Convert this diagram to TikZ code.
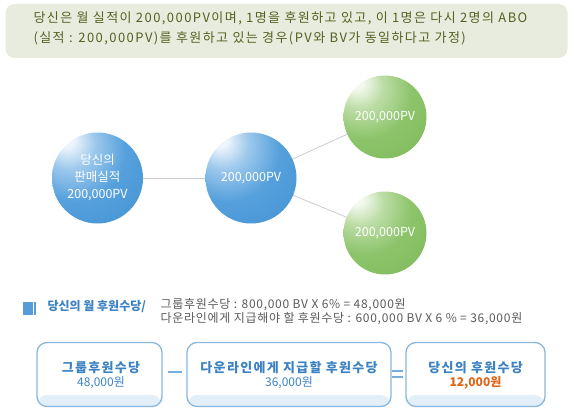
\documentclass[tikz,border=0pt]{standalone}
\usepackage{fontspec}
\setmainfont{Noto Sans CJK KR}
\usetikzlibrary{positioning}
\definecolor{clrOlive}{HTML}{55601F}
\definecolor{clrOliveLight}{HTML}{E8ECDF}
\definecolor{clrBlue}{HTML}{3B8BD0}
\definecolor{clrBlueMid}{HTML}{55A0DC}
\definecolor{clrBlueSoft}{HTML}{9CC8EC}
\definecolor{clrBlueHi}{HTML}{EEF5FC}
\definecolor{clrGreen}{HTML}{76B34F}
\definecolor{clrGreenMid}{HTML}{8DC46B}
\definecolor{clrGreenSoft}{HTML}{BCDDA6}
\definecolor{clrGreenHi}{HTML}{F4F9EF}
\definecolor{clrLine}{HTML}{C9CDD2}
\definecolor{clrHead}{HTML}{3C82C2}
\definecolor{clrText}{HTML}{5A5A5A}
\definecolor{clrBorder}{HTML}{86B8DD}
\definecolor{clrStrip}{HTML}{E2EEF8}
\definecolor{clrOrange}{HTML}{DE6519}
\pgfdeclareradialshading{glossblue}{\pgfpoint{-18bp}{22bp}}{%
  color(0bp)=(clrBlueHi); color(4bp)=(clrBlueHi); color(14bp)=(clrBlueSoft);
  color(28bp)=(clrBlueMid); color(62bp)=(clrBlue); color(90bp)=(clrBlue)}
\pgfdeclareradialshading{glossgreen}{\pgfpoint{-18bp}{22bp}}{%
  color(0bp)=(clrGreenHi); color(4bp)=(clrGreenHi); color(14bp)=(clrGreenSoft);
  color(28bp)=(clrGreenMid); color(62bp)=(clrGreen); color(90bp)=(clrGreen)}
\newcommand{\spaced}[1]{\addfontfeature{LetterSpace=#1}}
\tikzset{
  pv ball/.style={circle, inner sep=0pt, text=white, font=\fontsize{12.5}{17}\selectfont, align=center},
  blue ball/.style={pv ball, shading=glossblue, minimum size=91pt},
  green ball/.style={pv ball, shading=glossgreen, minimum size=83pt},
  link/.style={draw=clrLine, line width=0.8pt},
  sum box/.style={rectangle, draw=clrBorder, line width=1.3pt, rounded corners=10pt, align=center, inner sep=0pt},
  sum title/.style={font=\bfseries\fontsize{13}{15}\selectfont\spaced{10}, text=clrHead},
  sum value/.style={font=\fontsize{12}{15}\selectfont, text=clrHead},
  op mark/.style={draw=clrBorder!80!clrHead, line width=1.3pt},
}
\begin{document}
\begin{tikzpicture}[x=1pt, y=-1pt]
  \useasboundingbox (0,0) rectangle (574,412);

  % Question box
  \node[rectangle, fill=clrOliveLight, rounded corners=9pt, minimum width=562pt, minimum height=54pt] (quest) at (286.5,31) {};
  \node[anchor=west, text=clrOlive, font=\fontsize{13}{20}\selectfont\spaced{11}, align=left] (questtxt) at (30,28)
    {당신은 월 실적이 200,000PV이며, 1명을 후원하고 있고, 이 1명은 다시 2명의 ABO\\
     (실적 : 200,000PV)를 후원하고 있는 경우(PV와 BV가 동일하다고 가정)};

  % Sponsor tree
  \coordinate (cMe) at (97.5,178);
  \coordinate (cMid) at (251,178);
  \coordinate (cTop) at (385,117);
  \coordinate (cBot) at (385,233);
  \draw[link] (cMe) -- (cMid);
  \draw[link] (cMid) -- (cTop);
  \draw[link] (cMid) -- (cBot);
  \node[blue ball] (me) at (cMe) {당신의\\판매실적\\200,000PV};
  \node[blue ball] (mid) at (cMid) {200,000PV};
  \node[green ball] (top) at (cTop) {200,000PV};
  \node[green ball] (bot) at (cBot) {200,000PV};

  % Section heading
  \fill[clrBlue!85!white] (23,302) rectangle (33,315);
  \fill[clrBlue!85!white] (34,302) rectangle (36,315);
  \node[anchor=west, text=clrHead, font=\bfseries\fontsize{12}{14}\selectfont] (head) at (44,307) {당신의 월 후원수당/};
  \node[anchor=west, text=clrText, font=\fontsize{12}{14}\selectfont\spaced{6}, align=left] (calc) at (157,312)
    {그룹후원수당 : 800,000 BV X 6\% = 48,000원\\
     다운라인에게 지급해야 할 후원수당 : 600,000 BV  X 6 \% = 36,000원};

  % Result boxes
  \fill[clrStrip, rounded corners=9pt] (38,395) rectangle (161,406);
  \fill[clrStrip, rounded corners=9pt] (188,395) rectangle (390,406);
  \fill[clrStrip, rounded corners=9pt] (407,395) rectangle (544,406);
  \node[sum box, minimum width=125pt, minimum height=64pt] (group) at (99.5,374.5) {};
  \node[sum box, minimum width=204pt, minimum height=64pt] (down) at (289,374.5) {};
  \node[sum box, minimum width=139pt, minimum height=64pt] (mine) at (475.5,374.5) {};
  \node[sum title] (groupT) at (101,368) {그룹후원수당};
  \node[sum value] (groupV) at (101,383) {48,000원};
  \node[sum title] (downT) at (289,368) {다운라인에게 지급할 후원수당};
  \node[sum value] (downV) at (289,383) {36,000원};
  \node[sum title] (mineT) at (475.5,368) {당신의 후원수당};
  \node[sum value, font=\bfseries\fontsize{12}{15}\selectfont, text=clrOrange] (mineV) at (475.5,383) {12,000원};

  % Operators
  \draw[op mark] (168,372) -- (182,372);
  \draw[op mark] (392,371) -- (403,371);
  \draw[op mark] (392,377) -- (403,377);
\end{tikzpicture}
\end{document}
